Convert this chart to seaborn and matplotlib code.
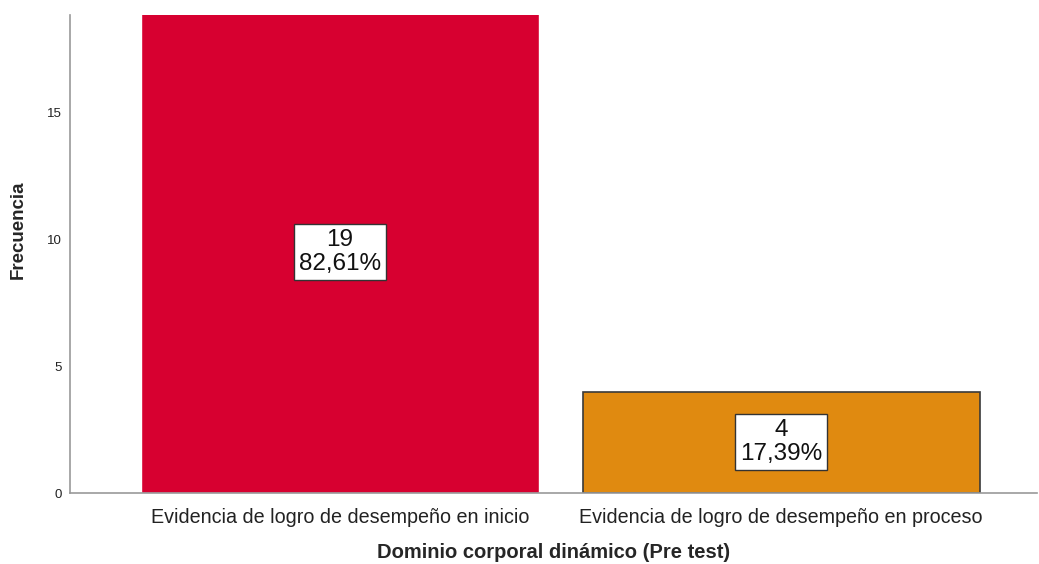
import matplotlib
matplotlib.use("Agg")
import matplotlib.pyplot as plt
import seaborn as sns
import pandas as pd

# datos
categorias = ["Evidencia de logro de desempeño en inicio",
              "Evidencia de logro de desempeño en proceso"]
frecuencias = [19, 4]
porcentajes = ["82,61%", "17,39%"]
colores = ["#D70030", "#E08A10"]

df = pd.DataFrame({"categoria": categorias, "frecuencia": frecuencias})

sns.set_style("white")
plt.rcParams['font.family'] = ['Liberation Sans', 'DejaVu Sans']

fig = plt.figure(figsize=(10.39, 5.64), dpi=100)
ax = fig.add_axes([70 / 1039, 1 - 493 / 564, 967 / 1039, 478 / 564])

sns.barplot(data=df, x="categoria", y="frecuencia", hue="categoria",
            palette=colores, width=0.9, legend=False, ax=ax, saturation=1)

# borde solo en la segunda barra (la primera queda cortada)
ax.patches[1].set_edgecolor("#3a3a3a")
ax.patches[1].set_linewidth(1.2)

ax.set_xlim(-0.612, 1.58)
ax.set_ylim(0, 18.86)
ax.set_yticks([0, 5, 10, 15])

# etiquetas dentro de las barras
for i, (f, p) in enumerate(zip(frecuencias, porcentajes)):
    ax.text(i, f / 2, f"{f}\n{p}", ha="center", va="center", fontsize=17.5,
            linespacing=1.12, color="#111111",
            bbox=dict(boxstyle="square,pad=0.2", facecolor="white",
                      edgecolor="#333333", linewidth=1))

for s in ["top", "right"]:
    ax.spines[s].set_visible(False)
for s in ["left", "bottom"]:
    ax.spines[s].set_color("#999999")
    ax.spines[s].set_linewidth(1.2)

ax.tick_params(axis="y", labelsize=9.5, length=0, pad=6, colors="#222222")
ax.tick_params(axis="x", labelsize=14.2, length=0, pad=11, colors="#222222")
ax.set_xlabel("Dominio corporal dinámico (Pre test)", fontsize=14.5,
              fontweight="bold", labelpad=11)
ax.set_ylabel("Frecuencia", fontsize=13.5, fontweight="bold")
ax.yaxis.set_label_coords(-0.045, 0.55)

fig.savefig("out.png", dpi=100)
